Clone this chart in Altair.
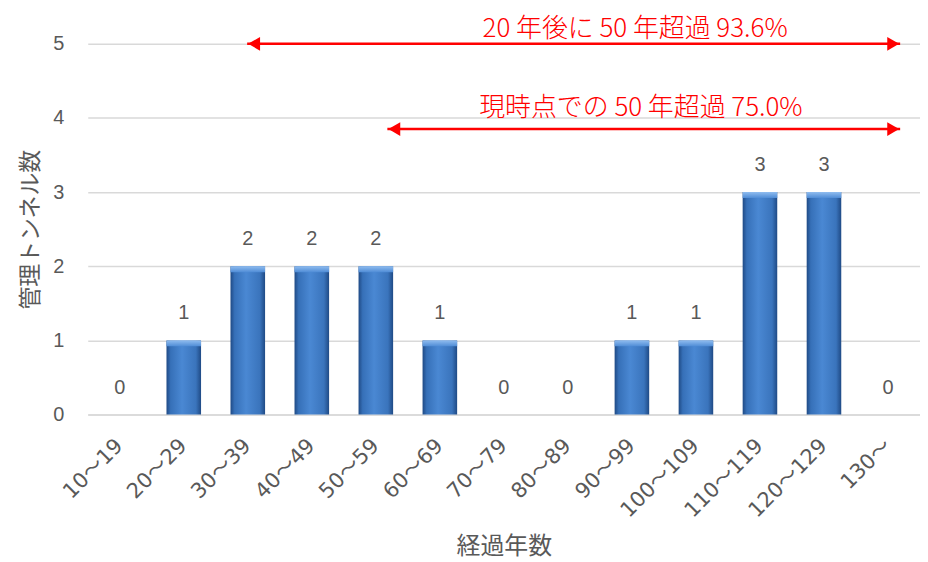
import altair as alt
import pandas as pd

categories = ["10～19", "20～29", "30～39", "40～49", "50～59", "60～69", "70～79",
              "80～89", "90～99", "100～109", "110～119", "120～129", "130～"]
counts = [0, 1, 2, 2, 2, 1, 0, 0, 1, 1, 3, 3, 0]

arrow_labels = ["20 年後に 50 年超過 93.6%", "現時点での 50 年超過 75.0%"]
arrow_start = [2.49, 4.68]
arrow_end = [12.69, 12.69]
arrow_y = [5.0, 3.85]
label_x = [8.55, 8.64]
label_y = [5.2, 4.13]

df = pd.DataFrame({"cat": categories, "n": counts})
arr = pd.DataFrame({"label": arrow_labels, "x0": arrow_start, "x1": arrow_end,
                    "y": arrow_y, "lx": label_x, "ly": label_y})

FONT = "Liberation Sans, Noto Sans CJK JP"
XFONT = "DejaVu Sans, Noto Sans CJK JP"
GRAY = "#595959"
YTITLE = "管理トンネル数"

xcat = alt.X("cat:N", sort=categories, title="経過年数",
             scale=alt.Scale(paddingInner=0.46, paddingOuter=0.23),
             axis=alt.Axis(labelAngle=-45, labelAlign="right", labelBaseline="middle",
                           labelFontSize=21, labelColor=GRAY, labelFont=XFONT,
                           labelPadding=28, ticks=False, domainColor="#d9d9d9",
                           domainWidth=1.5, titleFont="Noto Sans CJK JP",
                           titleFontSize=24, titleFontWeight="normal",
                           titleColor=GRAY, titlePadding=14))
yscale = alt.Scale(domain=[0, 5], nice=False)
yaxis = alt.Axis(values=[0, 1, 2, 3, 4, 5], ticks=False, domain=False,
                 labelFontSize=20, labelColor=GRAY, labelFont=FONT,
                 labelPadding=24, gridColor="#d9d9d9", gridWidth=1.5,
                 titleFont="Noto Sans CJK JP", titleFontSize=23,
                 titleFontWeight="normal", titleColor=GRAY, titlePadding=10)

grad = alt.Gradient(gradient="linear", x1=0, x2=1, y1=0, y2=0, stops=[
    alt.GradientStop(offset=0, color="#1f4a85"),
    alt.GradientStop(offset=0.12, color="#3670b8"),
    alt.GradientStop(offset=0.45, color="#4a88d3"),
    alt.GradientStop(offset=0.85, color="#3a74bc"),
    alt.GradientStop(offset=1, color="#1f4a85"),
])
topgrad = alt.Gradient(gradient="linear", x1=0, x2=0, y1=0, y2=1, stops=[
    alt.GradientStop(offset=0, color="#8fbcef"),
    alt.GradientStop(offset=1, color="#4f8cd6"),
])

def yenc(field):
    return alt.Y(field, title=YTITLE, scale=yscale, axis=yaxis)

base = alt.Chart(df)
bars = base.mark_bar(color=grad).encode(x=xcat, y=yenc("n:Q"))
tops = base.transform_filter("datum.n > 0").transform_calculate(
    n2="datum.n - 0.08").mark_bar(color=topgrad).encode(
    x=alt.X("cat:N", sort=categories), y=yenc("n:Q"), y2="n2:Q")
texts = base.mark_text(dy=-27, fontSize=20, color=GRAY, font=FONT).encode(
    x=alt.X("cat:N", sort=categories), y=yenc("n:Q"), text="n:Q")

xs = alt.Scale(domain=[0, 13])
abase = alt.Chart(arr)
rules = abase.mark_rule(color="#ff0000", strokeWidth=2.5).encode(
    x=alt.X("x0:Q", scale=xs, axis=None), x2="x1:Q", y=yenc("y:Q"))
lheads = abase.mark_point(shape="triangle-left", filled=True, size=190, color="#ff0000",
                          opacity=1).encode(
    x=alt.X("x0:Q", scale=xs, axis=None), y=yenc("y:Q"), xOffset=alt.value(7))
rheads = abase.mark_point(shape="triangle-right", filled=True, size=190, color="#ff0000",
                          opacity=1).encode(
    x=alt.X("x1:Q", scale=xs, axis=None), y=yenc("y:Q"), xOffset=alt.value(-7))
alabels = abase.mark_text(fontSize=26, color="#ff0000", font="Noto Sans CJK JP",
                          fontWeight=300).encode(
    x=alt.X("lx:Q", scale=xs, axis=None), y=yenc("ly:Q"), text="label:N")

main = alt.layer(bars, tops, texts)
ann = alt.layer(rules, lheads, rheads, alabels)

chart = alt.layer(main, ann).resolve_scale(x="independent").properties(
    width=835, height=372, autosize="none",
    padding={"left": 80, "top": 35, "right": 0, "bottom": 145}
).configure_view(stroke=None).configure_axisX(grid=False)

chart.save("out.html", embed_options={"renderer": "svg", "actions": False})
